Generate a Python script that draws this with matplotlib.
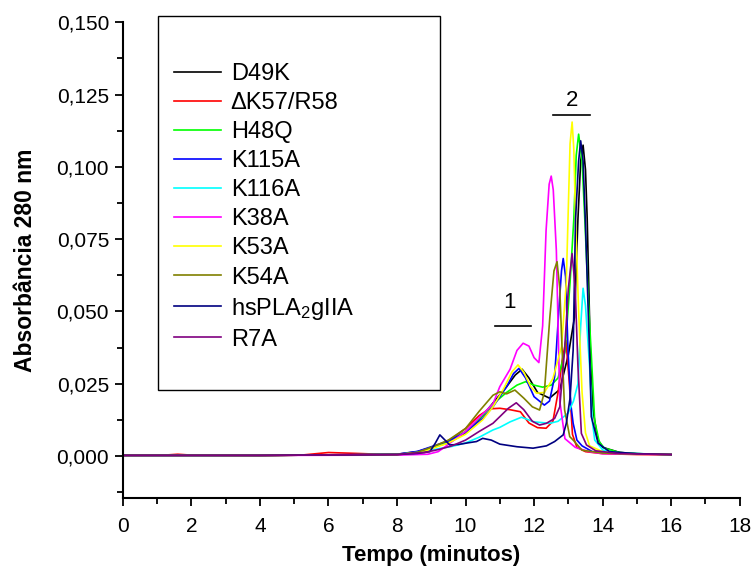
import matplotlib
matplotlib.use("Agg")
import matplotlib.pyplot as plt
from matplotlib.patches import Rectangle
from matplotlib.ticker import MultipleLocator, FuncFormatter

plt.rcParams['font.family'] = ['Liberation Sans', 'DejaVu Sans']
plt.rcParams['mathtext.fontset'] = 'custom'
plt.rcParams['mathtext.rm'] = 'Liberation Sans'
plt.rcParams['mathtext.it'] = 'Liberation Sans:italic'

# values (tempo in min, absorbancia 280 nm)
d49k_x = [0, 4, 8.0, 8.6, 9.0, 9.5, 10.0, 10.5, 10.8, 11.2, 11.45, 11.65, 11.85, 12.1, 12.45,
          12.75, 13.0, 13.18, 13.28, 13.36, 13.43, 13.5, 13.55, 13.64, 13.72, 13.85, 14.0, 14.5, 15, 16]
d49k_y = [0.0002, 0.0002, 0.0006, 0.0015, 0.003, 0.0045, 0.008, 0.014, 0.0183, 0.024, 0.028, 0.030,
          0.027, 0.022, 0.020, 0.023, 0.035, 0.048, 0.082, 0.102, 0.1075, 0.099, 0.082, 0.0366, 0.016,
          0.006, 0.003, 0.0012, 0.0008, 0.0005]

dk57_x = [0, 1.2, 1.6, 2.0, 4.0, 5.2, 6.0, 6.8, 7.5, 8.5, 8.8, 9.2, 9.6, 10.0, 10.4, 10.7, 11.0,
          11.3, 11.6, 11.85, 12.1, 12.35, 12.55, 12.7, 12.82, 12.93, 13.03, 13.12, 13.25, 13.5, 14.0, 15, 16]
dk57_y = [0.0002, 0.0003, 0.0006, 0.0003, 0.0001, 0.0003, 0.0012, 0.0009, 0.0006, 0.0008, 0.0018,
          0.0035, 0.006, 0.0095, 0.014, 0.0163, 0.0165, 0.016, 0.0153, 0.0114, 0.0098, 0.0096, 0.012,
          0.022, 0.033, 0.040, 0.025, 0.0075, 0.003, 0.0015, 0.0008, 0.0005, 0.0004]

h48q_x = [0, 4, 8.0, 8.6, 9.0, 9.5, 10.0, 10.5, 10.8, 11.2, 11.5, 11.75, 12.0, 12.25, 12.5, 12.7,
          12.9, 13.05, 13.16, 13.23, 13.3, 13.4, 13.48, 13.58, 13.67, 13.77, 13.9, 14.05, 14.5, 15, 16]
h48q_y = [0.0002, 0.0002, 0.0005, 0.0013, 0.0028, 0.005, 0.0085, 0.014, 0.018, 0.022, 0.0245, 0.0257,
          0.0245, 0.0238, 0.0245, 0.027, 0.036, 0.06, 0.082, 0.104, 0.1113, 0.102, 0.082, 0.055, 0.035,
          0.012, 0.005, 0.0027, 0.0012, 0.0008, 0.0005]

k115a_x = [0, 4, 8.0, 8.6, 9.0, 9.5, 10.0, 10.5, 10.8, 11.2, 11.4, 11.56, 11.75, 12.0, 12.3, 12.45,
           12.6, 12.72, 12.8, 12.85, 12.92, 12.99, 13.07, 13.14, 13.25, 13.4, 13.7, 14.5, 16]
k115a_y = [0.0002, 0.0002, 0.0006, 0.0016, 0.0032, 0.0052, 0.0082, 0.013, 0.017, 0.024, 0.0285, 0.0303,
           0.027, 0.0205, 0.0176, 0.019, 0.0274, 0.05, 0.064, 0.0683, 0.062, 0.0366, 0.018, 0.0113,
           0.0055, 0.0035, 0.0015, 0.0008, 0.0005]

k116a_x = [0, 4, 8.0, 8.8, 9.2, 9.6, 10.0, 10.4, 10.8, 11.0, 11.3, 11.63, 12.0, 12.46, 12.7, 12.99,
           13.15, 13.28, 13.36, 13.43, 13.5, 13.62, 13.7, 13.77, 14.01, 14.5, 16]
k116a_y = [0.0002, 0.0002, 0.0005, 0.0015, 0.0025, 0.0033, 0.0045, 0.0065, 0.009, 0.0099, 0.0118,
           0.0134, 0.0118, 0.0113, 0.012, 0.0148, 0.019, 0.025, 0.045, 0.058, 0.052, 0.031, 0.012,
           0.0055, 0.002, 0.001, 0.0005]

k38a_x = [0, 4, 8.0, 8.9, 9.2, 9.5, 10.0, 10.5, 10.8, 11.0, 11.3, 11.5, 11.68, 11.85, 12.0, 12.14,
          12.25, 12.35, 12.44, 12.5, 12.56, 12.65, 12.75, 12.9, 13.2, 13.6, 14.0, 16]
k38a_y = [0.0002, 0.0002, 0.0003, 0.0006, 0.0015, 0.004, 0.0085, 0.0145, 0.018, 0.024, 0.030, 0.0365,
          0.039, 0.038, 0.034, 0.0323, 0.045, 0.078, 0.094, 0.0968, 0.092, 0.071, 0.019, 0.006, 0.003,
          0.0015, 0.0008, 0.0005]

k53a_x = [0, 4, 8.0, 8.7, 9.0, 9.5, 10.0, 10.5, 10.8, 11.1, 11.35, 11.53, 11.7, 11.9, 12.07, 12.3,
          12.55, 12.8, 12.94, 12.99, 13.05, 13.11, 13.16, 13.21, 13.3, 13.4, 13.5, 13.62, 14.0, 14.5, 16]
k53a_y = [0.0002, 0.0002, 0.0005, 0.0012, 0.0025, 0.0045, 0.0075, 0.0125, 0.017, 0.023, 0.029, 0.0315,
          0.029, 0.024, 0.0217, 0.022, 0.0268, 0.0378, 0.060, 0.082, 0.108, 0.1155, 0.106, 0.082, 0.05,
          0.022, 0.008, 0.0035, 0.0015, 0.0008, 0.0005]

k54a_x = [0, 4, 8.0, 8.6, 9.0, 9.5, 10.0, 10.4, 10.8, 11.0, 11.2, 11.44, 11.7, 11.95, 12.16, 12.3,
          12.46, 12.58, 12.67, 12.75, 12.8, 12.89, 13.04, 13.14, 13.4, 14.0, 16]
k54a_y = [0.0002, 0.0002, 0.0005, 0.0013, 0.003, 0.0055, 0.0095, 0.0155, 0.021, 0.0222, 0.0215, 0.0228,
          0.020, 0.017, 0.0159, 0.022, 0.048, 0.064, 0.0672, 0.058, 0.042, 0.016, 0.0067, 0.0055, 0.002,
          0.001, 0.0005]

hspla_x = [0, 4, 8.0, 8.6, 8.96, 9.12, 9.25, 9.4, 9.54, 9.8, 10.1, 10.32, 10.5, 10.75, 11.0, 11.5,
           11.97, 12.36, 12.6, 12.85, 12.94, 13.05, 13.14, 13.21, 13.3, 13.36, 13.43, 13.5, 13.62,
           13.67, 13.87, 14.2, 15, 16]
hspla_y = [0.0002, 0.0002, 0.0005, 0.0009, 0.0015, 0.0045, 0.0073, 0.0055, 0.0038, 0.004, 0.0046,
           0.005, 0.0061, 0.0055, 0.0041, 0.0032, 0.0027, 0.0035, 0.005, 0.0073, 0.0113, 0.02, 0.0366,
           0.082, 0.102, 0.109, 0.102, 0.08, 0.035, 0.0136, 0.0044, 0.0015, 0.0008, 0.0005]

r7a_x = [0, 4, 8.0, 8.8, 9.2, 9.6, 10.0, 10.4, 10.8, 11.0, 11.25, 11.48, 11.7, 11.95, 12.16, 12.36,
         12.6, 12.75, 12.89, 13.0, 13.11, 13.2, 13.28, 13.38, 13.53, 13.8, 14.5, 16]
r7a_y = [0.0002, 0.0002, 0.0005, 0.0012, 0.0022, 0.0035, 0.0055, 0.0085, 0.0113, 0.0136, 0.0165,
         0.0184, 0.016, 0.012, 0.0107, 0.0113, 0.013, 0.017, 0.0366, 0.058, 0.070, 0.058, 0.031,
         0.0078, 0.0038, 0.0018, 0.0008, 0.0005]

labels = ["D49K", "\u0394K57/R58", "H48Q", "K115A", "K116A", "K38A", "K53A", "K54A",
          "hsPLA$_2$gIIA", "R7A"]
colors = ["black", "red", "#00ff00", "blue", "cyan", "magenta", "yellow", "#808000",
          "#000080", "#800080"]

series = [(d49k_x, d49k_y), (dk57_x, dk57_y), (h48q_x, h48q_y), (k115a_x, k115a_y),
          (k116a_x, k116a_y), (k38a_x, k38a_y), (k53a_x, k53a_y), (k54a_x, k54a_y),
          (hspla_x, hspla_y), (r7a_x, r7a_y)]

fig = plt.figure(figsize=(7.54, 5.71), dpi=100)
ax = fig.add_axes([0.163, 0.128, 0.818, 0.833])

lines = []
for (xs, ys), lab, c in zip(series, labels, colors):
    l, = ax.plot(xs, ys, color=c, lw=1.2, label=lab)
    lines.append(l)

ax.set_xlim(0, 18)
ax.set_ylim(-0.0145, 0.150)
ax.xaxis.set_major_locator(MultipleLocator(2))
ax.xaxis.set_minor_locator(MultipleLocator(1))
ax.yaxis.set_major_locator(MultipleLocator(0.025))
ax.yaxis.set_minor_locator(MultipleLocator(0.0125))
ax.yaxis.set_major_formatter(FuncFormatter(lambda v, p: f"{v:.3f}".replace('.', ',')))
ax.tick_params(which='major', direction='out', length=6, width=1.3, labelsize=15)
ax.tick_params(axis='x', which='major', pad=8)
ax.tick_params(axis='y', which='major', pad=4)
ax.tick_params(which='minor', direction='out', length=4, width=1.3)
for s in ['top', 'right']:
    ax.spines[s].set_visible(False)
for s in ['left', 'bottom']:
    ax.spines[s].set_linewidth(1.5)

ax.set_xlabel("Tempo (minutos)", fontsize=16, fontweight='bold', labelpad=6)
ax.set_ylabel("Absorbância 280 nm", fontsize=16.5, fontweight='bold', labelpad=14)

# peak markers
ax.text(11.29, 0.0532, "1", fontsize=16, ha='center', va='center')
ax.plot([10.85, 11.9], [0.0449, 0.0449], color='black', lw=1.2)
ax.text(13.1, 0.123, "2", fontsize=16, ha='center', va='center')
ax.plot([12.54, 13.62], [0.1178, 0.1178], color='black', lw=1.2)

# legend box
fig.patches.append(Rectangle((158 / 754, (571 - 390) / 571), (440 - 158) / 754, (390 - 16) / 571,
                             transform=fig.transFigure, fill=False, ec='black', lw=1.0))
fig.legend(handles=lines, loc='upper left', bbox_to_anchor=(174 / 754, (571 - 63) / 571),
           frameon=False, fontsize=17, handlelength=2.0, handletextpad=0.4,
           labelspacing=0.3, borderpad=0, borderaxespad=0)

fig.savefig("out.png", dpi=100)
